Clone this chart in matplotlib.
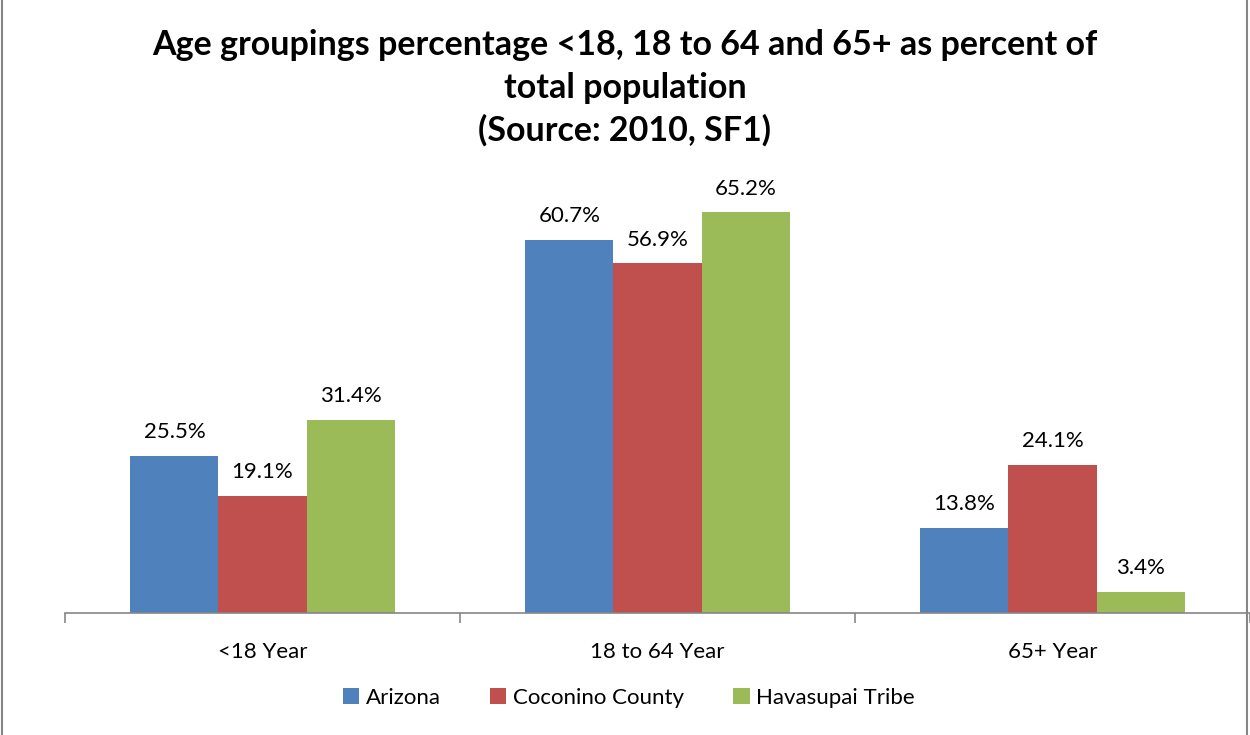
import numpy as np
import matplotlib.pyplot as plt
from matplotlib.lines import Line2D

# Data
groups = ['<18 Year', '18 to 64 Year', '65+ Year']
series = ['Arizona', 'Coconino County', 'Havasupai Tribe']
arizona = [25.5, 60.7, 13.8]
coconino = [19.1, 56.9, 24.1]
havasupai = [31.4, 65.2, 3.4]
colors = ['#4F81BD', '#C0504D', '#9BBB59']

plt.rcParams['font.family'] = ['Lato', 'DejaVu Sans']

fig = plt.figure(figsize=(12.5, 7.35), dpi=100)
ax = fig.add_axes([65 / 1250, 122 / 735, 1185 / 1250, 430 / 735])

x = np.arange(len(groups))
width = 0.223
for i, (vals, name) in enumerate(zip([arizona, coconino, havasupai], series)):
    pos = x + (i - 1) * width
    bars = ax.bar(pos, vals, width, color=colors[i], label=name, edgecolor='none')
    for b, v in zip(bars, vals):
        ax.annotate(f'{v:.1f}%', (b.get_x() + b.get_width() / 2, v),
                    xytext=(0, 10), textcoords='offset points',
                    ha='center', va='bottom', fontsize=16)

ax.set_xlim(-0.5, 2.5)
ax.set_ylim(0, 70)
ax.set_yticks([])
for s in ['top', 'right', 'left']:
    ax.spines[s].set_visible(False)
ax.spines['bottom'].set_color('#868686')
ax.spines['bottom'].set_linewidth(1.2)

ax.set_xticks(x)
ax.set_xticklabels(groups, fontsize=16)
ax.tick_params(axis='x', which='major', length=0, pad=21)
ax.set_xticks([-0.5, 0.5, 1.5, 2.5], minor=True)
ax.tick_params(axis='x', which='minor', length=7, color='#868686', width=1.2)

fig.suptitle('Age groupings percentage <18, 18 to 64 and 65+ as percent of\n'
             'total population\n(Source: 2010, SF1)',
             x=0.5, y=0.96, fontsize=24.5, fontweight='bold', linespacing=1.4)

fig.legend(loc='center', bbox_to_anchor=(0.503, 0.051), ncol=3, frameon=False,
           fontsize=16, handlelength=0.75, handleheight=0.75, handletextpad=0.3,
           columnspacing=2.2)

# chart border
fig.add_artist(Line2D([2 / 1250, 2 / 1250], [0, 1], color='#868686', lw=1.5))
fig.add_artist(Line2D([1247 / 1250, 1247 / 1250], [0, 1], color='#868686', lw=1.5))

fig.savefig('out.png', dpi=100)
